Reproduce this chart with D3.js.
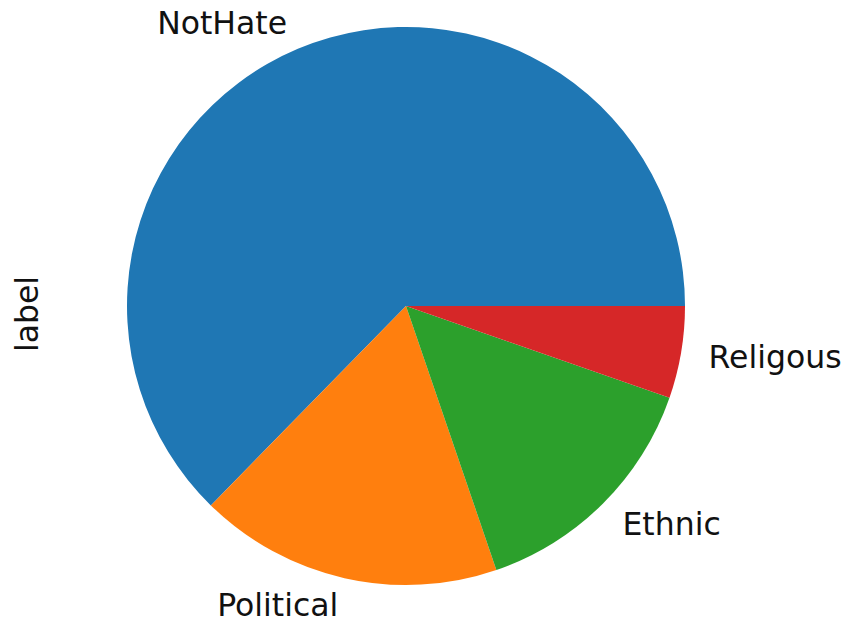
<!DOCTYPE html>
<html>
<head>
<meta charset="utf-8">
<script src="https://cdn.jsdelivr.net/npm/d3@7"></script>
<style>
  body { margin: 0; background: white; }
  text { font-family: "DejaVu Sans", sans-serif; fill: #111; }
</style>
</head>
<body>
<div id="chart"></div>
<script>
// shares (fraction of all samples)
const labels = ["NotHate", "Political", "Ethnic", "Religous"];
const values = [0.6267, 0.1758, 0.1442, 0.0533];
const colors = ["#1f77b4", "#ff7f0e", "#2ca02c", "#d62728"];

const width = 845, height = 623;
const cx = 406, cy = 306, radius = 279;
const fontSize = 31.5;

const svg = d3.select("#chart")
  .append("svg")
  .attr("width", width)
  .attr("height", height);

svg.append("rect")
  .attr("width", width)
  .attr("height", height)
  .attr("fill", "white");

// matplotlib style: start at 3 o'clock, go counter-clockwise
const pie = d3.pie()
  .sort(null)
  .startAngle(Math.PI / 2)
  .endAngle(Math.PI / 2 - 2 * Math.PI);

const arcs = pie(values);

const arc = d3.arc().innerRadius(0).outerRadius(radius);
const labelArc = d3.arc().innerRadius(radius * 1.1).outerRadius(radius * 1.1);

const g = svg.append("g").attr("transform", `translate(${cx},${cy})`);

g.selectAll("path.slice")
  .data(arcs)
  .enter()
  .append("path")
  .attr("class", "slice")
  .attr("fill", (d, i) => colors[i])
  .attr("d", arc);

g.selectAll("text.lbl")
  .data(arcs)
  .enter()
  .append("text")
  .attr("class", "lbl")
  .attr("font-size", fontSize)
  .attr("x", d => labelArc.centroid(d)[0])
  .attr("y", d => labelArc.centroid(d)[1])
  .attr("dy", "0.35em")
  .attr("text-anchor", d => (labelArc.centroid(d)[0] > 0 ? "start" : "end"))
  .text((d, i) => labels[i]);

// y label
svg.append("text")
  .attr("font-size", fontSize)
  .attr("text-anchor", "middle")
  .attr("transform", "translate(38,314) rotate(-90)")
  .text("label");
</script>
</body>
</html>
